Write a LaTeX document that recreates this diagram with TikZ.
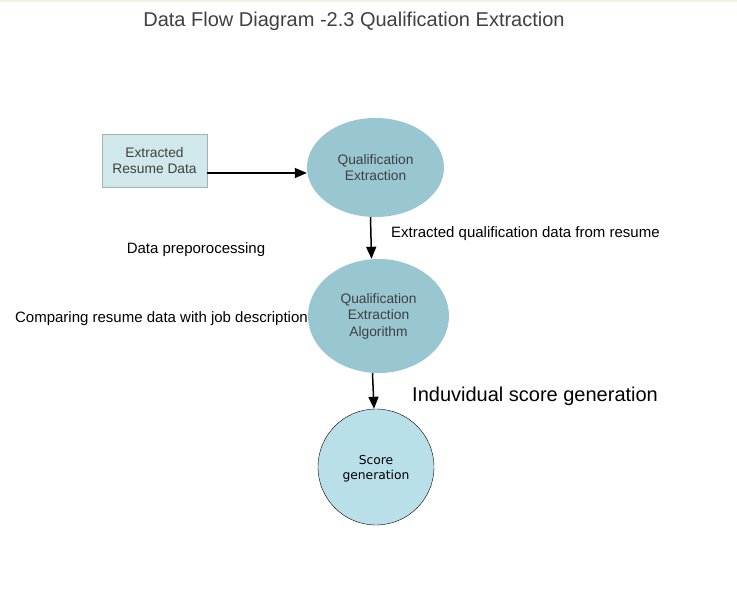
\documentclass[tikz,border=0pt]{standalone}
\usepackage{fontspec}
\setmainfont{Liberation Sans}
\newfontfamily\scorefont{DejaVu Sans}
\usetikzlibrary{arrows.meta, positioning, shapes.geometric}
\definecolor{paleteal}{RGB}{208,232,234}
\definecolor{boxline}{RGB}{160,178,180}
\definecolor{dustyteal}{RGB}{152,198,209}
\definecolor{lightcyan}{RGB}{185,223,233}
\definecolor{textgray}{RGB}{64,64,64}
\definecolor{topedge}{RGB}{246,238,226}

\begin{document}
\begin{tikzpicture}[x=1pt, y=-1pt, >={Triangle[length=12pt,width=10pt]},
    process/.style={ellipse, fill=dustyteal, text=textgray, align=center, inner sep=0pt, font=\fontsize{13.8}{16.5}\selectfont},
    flowlabel/.style={font=\fontsize{15}{17}\selectfont, inner sep=0pt},
    flow/.style={->, line width=1.5pt}]
        \useasboundingbox (0,0) rectangle (737,608);
        \fill[white] (0,0) rectangle (737,608);
        \draw[topedge, line width=1.5pt] (0,0.75) -- (737,0.75);

        \node[font=\fontsize{20}{22}\selectfont, text=textgray] (title) at (354,21) {Data Flow Diagram -2.3 Qualification Extraction};

        \node[draw=boxline, fill=paleteal, minimum width=105pt, minimum height=53pt, align=center, text=textgray, font=\fontsize{13.8}{16}\selectfont] (resume) at (154.5,160.5) {Extracted\\Resume Data};
        \node[process, minimum width=137pt, minimum height=99pt] (qualext) at (375.5,167.5) {Qualification\\Extraction};
        \node[process, minimum width=141pt, minimum height=114pt] (qualalgo) at (378.5,316) {Qualification\\Extraction\\Algorithm};
        \node[circle, draw, fill=lightcyan, minimum size=116pt, inner sep=0pt, align=center, text depth=-3pt, font=\scorefont\fontsize{12.3}{15}\selectfont] (score) at (376,467) {Score\\generation};

        \node[flowlabel, anchor=west] (extlabel) at (391,234) {Extracted qualification data from resume};
        \node[flowlabel] (prelabel) at (196,250) {Data preporocessing};
        \node[flowlabel, anchor=east] (cmplabel) at (308,319) {Comparing resume data with job description};
        \node[flowlabel, font=\fontsize{20}{22}\selectfont, anchor=west] (scorelabel) at (412,396) {Induvidual score generation};

        \draw[flow] (resume.east |- 0,173) -- (qualext.west |- 0,173);
        \draw[flow] ([xshift=-5pt]qualext.south) -- ([xshift=-7pt]qualalgo.north);
        \draw[flow] ([xshift=-6pt]qualalgo.south) -- ([xshift=-2pt]score.north);
    \end{tikzpicture}
\end{document}
